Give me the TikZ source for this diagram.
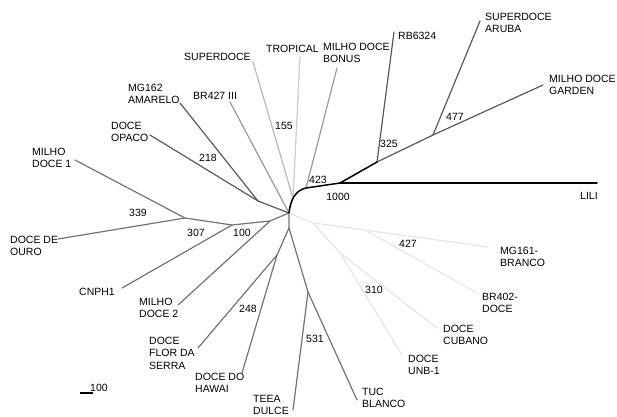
\documentclass[tikz,border=0pt]{standalone}
\usepackage{fontspec}
\setmainfont{Liberation Sans}
\begin{document}
\begin{tikzpicture}[x=1pt,y=-1pt,
  lbl/.style={anchor=north west,inner sep=0pt,align=left,font=\fontsize{10.5}{12.3}\selectfont},
  num/.style={anchor=center,inner sep=0pt,font=\fontsize{10.5}{12.3}\selectfont},
  br/.style={line width=1.2pt,line cap=round},
  cblack/.style={br,draw=black,line width=1.5pt},
  cdark/.style={br,draw=black!65},
  cmid/.style={br,draw=black!55},
  cgray/.style={br,draw=black!40},
  clight/.style={br,draw=black!28},
  cvlight/.style={br,draw=black!20},
  cfaint/.style={br,draw=black!10}]
\useasboundingbox (0,0) rectangle (617,416);
% tree points
\coordinate (R) at (289,213);
\coordinate (j423) at (306,188);
\coordinate (j1000) at (340,183);
\coordinate (j325) at (377,162);
\coordinate (j477) at (433,135);
\coordinate (j155) at (293,198);
\coordinate (j218) at (258,201);
\coordinate (j339) at (185,218);
\coordinate (j307) at (232,225);
\coordinate (j100) at (270,221);
\coordinate (jb) at (289,228);
\coordinate (j248) at (277,255);
\coordinate (j531) at (308,292);
\coordinate (jr) at (313,223);
\coordinate (j427) at (365,230);
\coordinate (j310) at (340,253);
% leaf ends
\coordinate (eSup) at (253,62);
\coordinate (eTrop) at (300,57);
\coordinate (eBon) at (337,68);
\coordinate (eRB) at (394,32);
\coordinate (eAru) at (480,21);
\coordinate (eGar) at (543,85);
\coordinate (eLili) at (597,183);
\coordinate (eMG162) at (180,103);
\coordinate (eBR427) at (230,102);
\coordinate (eOpa) at (150,135);
\coordinate (eMD1) at (75,160);
\coordinate (eOuro) at (58,239);
\coordinate (eCNPH) at (122,288);
\coordinate (eMD2) at (178,305);
\coordinate (eFlor) at (198,348);
\coordinate (eHaw) at (242,373);
\coordinate (eTeea) at (293,410);
\coordinate (eTuc) at (357,400);
\coordinate (eUnb) at (402,355);
\coordinate (eCub) at (437,328);
\coordinate (eBR402) at (477,293);
\coordinate (eMG161) at (488,247);
% branches
\draw[cdark] (j325) -- (eRB);
\draw[cdark] (j477) -- (eAru);
\draw[cdark] (j325) -- (j477) -- (eGar);
\draw[cgray] (j423) -- (eBon);
\draw[cvlight] (j155) -- (eTrop);
\draw[clight] (j155) -- (eSup);
\draw[clight] (j155) -- (R);
\draw[cgray] (R) -- (eBR427);
\draw[cdark] (R) -- (j218) -- (eMG162);
\draw[cdark] (j218) -- (eOpa);
\draw[cmid] (R) -- (j100) -- (j307) -- (j339) -- (eMD1);
\draw[cmid] (j339) -- (eOuro);
\draw[cmid] (j307) -- (eCNPH);
\draw[cmid] (j100) -- (eMD2);
\draw[cmid] (R) -- (jb) -- (j248) -- (eFlor);
\draw[cmid] (j248) -- (eHaw);
\draw[cmid] (jb) -- (j531) -- (eTeea);
\draw[cmid] (j531) -- (eTuc);
\draw[cfaint] (R) -- (jr) -- (j427) -- (eMG161);
\draw[cfaint] (j427) -- (eBR402);
\draw[cfaint] (jr) -- (j310) -- (eUnb);
\draw[cfaint] (j310) -- (eCub);
\draw[cblack] (R) .. controls (290,200) and (296,190) .. (j423) -- (j1000) -- (j325);
\draw[cblack] (j1000) -- (eLili);
% labels
\node[lbl] (lSup) at (184,53) {SUPERDOCE};
\node[lbl] (lTrop) at (266,45) {TROPICAL};
\node[lbl] (lBon) at (323,43) {MILHO DOCE\\BONUS};
\node[lbl] (lRB) at (398,32) {RB6324};
\node[lbl] (lAru) at (485,13) {SUPERDOCE\\ARUBA};
\node[lbl] (lGar) at (549,75) {MILHO DOCE\\GARDEN};
\node[lbl] (lMG162) at (128,84) {MG162\\AMARELO};
\node[lbl] (lBR427) at (193,92) {BR427 III};
\node[lbl] (lOpa) at (111,122) {DOCE\\OPACO};
\node[lbl] (lMD1) at (32,148) {MILHO\\DOCE 1};
\node[lbl] (lOuro) at (10,236) {DOCE DE\\OURO};
\node[lbl] (lCNPH) at (79,288) {CNPH1};
\node[lbl] (lMD2) at (139,298) {MILHO\\DOCE 2};
\node[lbl] (lFlor) at (149,337) {DOCE\\FLOR DA\\SERRA};
\node[lbl] (lHaw) at (195,373) {DOCE DO\\HAWAI};
\node[lbl] (lTeea) at (253,395) {TEEA\\DULCE};
\node[lbl] (lTuc) at (362,388) {TUC\\BLANCO};
\node[lbl] (lUnb) at (408,355) {DOCE\\UNB-1};
\node[lbl] (lCub) at (443,325) {DOCE\\CUBANO};
\node[lbl] (lBR402) at (482,293) {BR402-\\DOCE};
\node[lbl] (lMG161) at (500,247) {MG161-\\BRANCO};
\node[lbl] (lLili) at (580,192) {LILI};
% bootstrap values
\node[num] (n155) at (284,126) {155};
\node[num] (n218) at (208,158) {218};
\node[num] (n339) at (138,213) {339};
\node[num] (n307) at (196,233) {307};
\node[num] (n100) at (242,233) {100};
\node[num] (n248) at (248,309) {248};
\node[num] (n531) at (315,339) {531};
\node[num] (n310) at (374,290) {310};
\node[num] (n427) at (408,244) {427};
\node[num] (n423) at (318,180) {423};
\node[num] (n1000) at (338,197) {1000};
\node[num] (n325) at (389,144) {325};
\node[num] (n477) at (455,117) {477};
% scale bar
\coordinate (sb1) at (80,393);
\coordinate (sb2) at (93,393);
\draw[line width=1.3pt,black] (sb1) -- (sb2);
\node[num] (nsb) at (99,388) {100};
\end{tikzpicture}
\end{document}
